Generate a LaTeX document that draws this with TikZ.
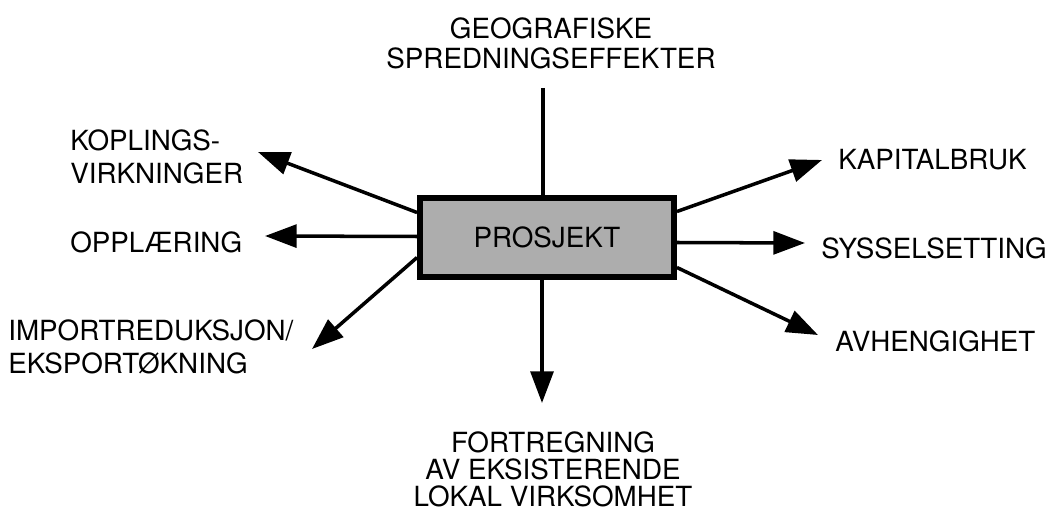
\documentclass[tikz,border=0pt]{standalone}
\usepackage{fontspec}
\setmainfont{TeX Gyre Heros}
\usetikzlibrary{arrows.meta, positioning, calc}

\begin{document}
\begin{tikzpicture}[x=0.02cm, y=-0.02cm, >={Triangle[length=18pt, width=13pt]},
  font=\fontsize{15.8}{18.6}\selectfont,
  lbl/.style={inner sep=0pt, align=left},
  link/.style={line width=2pt}]
  \useasboundingbox (0,0) rectangle (1050,516);

  % Central box
  \node[draw, line width=3.4pt, fill=black!32, inner sep=0pt,
        minimum width=5.08cm, minimum height=1.58cm] (prosjekt) at (547,237.5) {PROSJEKT};

  % Labels round the box
  \node[lbl, align=center, font=\fontsize{15.8}{17}\selectfont] (geo) at (551,43)
    {GEOGRAFISKE\\SPREDNINGSEFFEKTER};
  \node[lbl, anchor=west] (kopling) at (70,157) {KOPLINGS-\\VIRKNINGER};
  \node[lbl, anchor=west] (opplaering) at (70,242) {OPPLÆRING};
  \node[lbl, anchor=west] (import) at (8,347) {IMPORTREDUKSJON/\\EKSPORTØKNING};
  \node[lbl, anchor=west] (kapital) at (838,160) {KAPITALBRUK};
  \node[lbl, anchor=west] (syssel) at (821,248) {SYSSELSETTING};
  \node[lbl, anchor=west] (avheng) at (835,341) {AVHENGIGHET};
  \node[lbl, align=center, font=\fontsize{15.8}{15.4}\selectfont] (fortreg) at (553,469.5)
    {FORTREGNING\\AV EKSISTERENDE\\LOKAL VIRKSOMHET};

  % Line ends and arrow tips
  \coordinate (geo-end) at (543,88);
  \coordinate (kop-tip) at (258,152);
  \coordinate (opp-tip) at (265,236);
  \coordinate (imp-tip) at (312,349);
  \coordinate (kap-tip) at (822,160);
  \coordinate (sys-tip) at (805,243);
  \coordinate (avh-tip) at (818,335);
  \coordinate (fort-tip) at (542,403);

  % Connectors
  \draw[link] (geo-end) -- ($(prosjekt.north)+(-4,0)$);
  \draw[link, ->] ($(prosjekt.south)+(-5,0)$) -- (fort-tip);
  \foreach \dy/\tip in {-25/kop-tip, -1/opp-tip, 20/imp-tip}
    \draw[link, ->] ($(prosjekt.west)+(0,\dy)$) -- (\tip);
  \foreach \dy/\tip in {-26/kap-tip, 5/sys-tip, 30/avh-tip}
    \draw[link, ->] ($(prosjekt.east)+(0,\dy)$) -- (\tip);
\end{tikzpicture}
\end{document}
